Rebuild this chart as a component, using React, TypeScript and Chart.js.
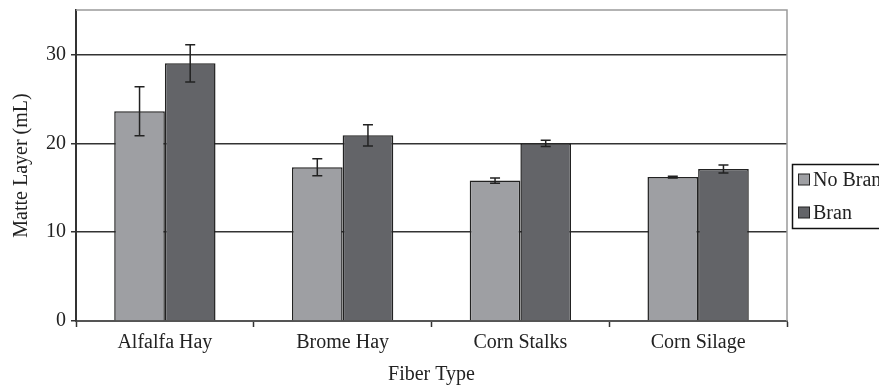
import React, { useEffect, useRef } from "react";
import { Chart, registerables } from "chart.js";

Chart.register(...registerables);

const categories = ["Alfalfa Hay", "Brome Hay", "Corn Stalks", "Corn Silage"];
const seriesNames = ["No Bran", "Bran"];
const noBranValues = [23.6, 17.3, 15.8, 16.2];
const noBranErrors = [2.75, 0.95, 0.3, 0.1];
const branValues = [29.0, 20.9, 20.0, 17.1];
const branErrors = [2.1, 1.2, 0.35, 0.45];
const seriesColors = ["#9e9fa3", "#636468"];
const yTicks = [0, 10, 20, 30];
const yMax = 35;

const FONT = "'Liberation Serif', 'Times New Roman', serif";
const TEXT = "#222222";

const errorBarPlugin = {
  id: "errorBars",
  afterDatasetsDraw(chart: any) {
    const ctx = chart.ctx;
    const yScale = chart.scales.y;
    const errs = [noBranErrors, branErrors];
    ctx.save();
    ctx.strokeStyle = "#222222";
    ctx.lineWidth = 1.5;
    chart.data.datasets.forEach((ds: any, i: number) => {
      const meta = chart.getDatasetMeta(i);
      meta.data.forEach((bar: any, j: number) => {
        const v = ds.data[j];
        const e = errs[i][j];
        const yt = yScale.getPixelForValue(v + e);
        const yb = yScale.getPixelForValue(v - e);
        const x = bar.x;
        const cw = 5;
        ctx.beginPath();
        ctx.moveTo(x, yt);
        ctx.lineTo(x, yb);
        ctx.moveTo(x - cw, yt);
        ctx.lineTo(x + cw, yt);
        ctx.moveTo(x - cw, yb);
        ctx.lineTo(x + cw, yb);
        ctx.stroke();
      });
    });
    ctx.restore();
  },
};

const frameAndLegendPlugin = {
  id: "frameLegend",
  beforeDatasetsDraw(chart: any) {
    const ctx = chart.ctx;
    const a = chart.chartArea;
    ctx.save();
    ctx.strokeStyle = "#9a9a9a";
    ctx.lineWidth = 1.5;
    ctx.beginPath();
    ctx.moveTo(a.left, a.top);
    ctx.lineTo(a.right, a.top);
    ctx.lineTo(a.right, a.bottom);
    ctx.stroke();
    ctx.restore();
  },
  afterDraw(chart: any) {
    const ctx = chart.ctx;
    const a = chart.chartArea;
    const bx = a.right + 5.5;
    const by = 164.5;
    const bh = 64;
    ctx.save();
    ctx.fillStyle = "#ffffff";
    ctx.fillRect(bx, by, 200, bh);
    ctx.strokeStyle = "#111111";
    ctx.lineWidth = 1.5;
    ctx.strokeRect(bx, by, 200, bh);
    ctx.font = `20px ${FONT}`;
    ctx.textBaseline = "middle";
    ctx.textAlign = "left";
    seriesNames.forEach((name, i) => {
      const cy = by + 15 + i * 33;
      ctx.fillStyle = seriesColors[i];
      ctx.fillRect(bx + 6, cy - 5.5, 11, 11);
      ctx.strokeStyle = "#222222";
      ctx.lineWidth = 1;
      ctx.strokeRect(bx + 6, cy - 5.5, 11, 11);
      ctx.fillStyle = TEXT;
      ctx.fillText(name, bx + 20.5, cy + 1);
    });
    ctx.restore();
  },
};

export default function App() {
  const ref = useRef<HTMLCanvasElement | null>(null);
  useEffect(() => {
    if (!ref.current) return;
    const chart = new Chart(ref.current, {
      type: "bar",
      data: {
        labels: categories,
        datasets: [
          {
            label: seriesNames[0],
            data: noBranValues,
            backgroundColor: seriesColors[0],
            borderColor: "#222222",
            borderWidth: 1.5,
            categoryPercentage: 0.57,
            barPercentage: 1,
          },
          {
            label: seriesNames[1],
            data: branValues,
            backgroundColor: seriesColors[1],
            borderColor: "#222222",
            borderWidth: 1.5,
            categoryPercentage: 0.57,
            barPercentage: 1,
          },
        ],
      },
      options: {
        responsive: false,
        animation: false,
        layout: { padding: { top: 10, right: 92, left: 0, bottom: 0 } },
        plugins: {
          legend: { display: false },
          tooltip: { enabled: false },
        },
        scales: {
          x: {
            offset: true,
            grid: {
              offset: true,
              drawOnChartArea: false,
              drawTicks: true,
              tickLength: 6,
              tickColor: "#333333",
              tickWidth: 1.5,
            },
            border: { display: true, color: "#555555", width: 2 },
            ticks: {
              color: TEXT,
              font: { family: FONT, size: 20 },
              padding: 4,
              maxRotation: 0,
            },
            title: {
              display: true,
              text: "Fiber Type",
              color: TEXT,
              font: { family: FONT, size: 20 },
              padding: { top: 0, bottom: 1 },
            },
            afterFit(scale: any) {
              scale.height = 67;
              scale.paddingLeft = 0;
              scale.paddingRight = 0;
            },
          },
          y: {
            min: 0,
            max: yMax,
            afterBuildTicks(scale: any) {
              scale.ticks = yTicks.map((v) => ({ value: v }));
            },
            grid: {
              color: (c: any) => (c.tick && c.tick.value === 0 ? "rgba(0,0,0,0)" : "#333333"),
              lineWidth: 1.5,
              drawTicks: true,
              tickLength: 5,
              tickColor: "#333333",
              tickWidth: 1.5,
            },
            border: { display: true, color: "#333333", width: 2 },
            ticks: {
              color: TEXT,
              font: { family: FONT, size: 20 },
              padding: 5,
            },
            title: {
              display: true,
              text: "Matte Layer (mL)",
              color: TEXT,
              font: { family: FONT, size: 20 },
              padding: { top: 10, bottom: 0 },
            },
            afterFit(scale: any) {
              scale.width = 76;
              scale.paddingTop = 0;
              scale.paddingBottom = 0;
            },
          },
        },
      },
      plugins: [errorBarPlugin, frameAndLegendPlugin],
    });
    return () => chart.destroy();
  }, []);
  return (
    <div style={{ position: "fixed", left: 0, top: 0, width: 879, height: 388, background: "#fff" }}>
      <canvas ref={ref} width={879} height={388} style={{ display: "block" }} />
    </div>
  );
}
